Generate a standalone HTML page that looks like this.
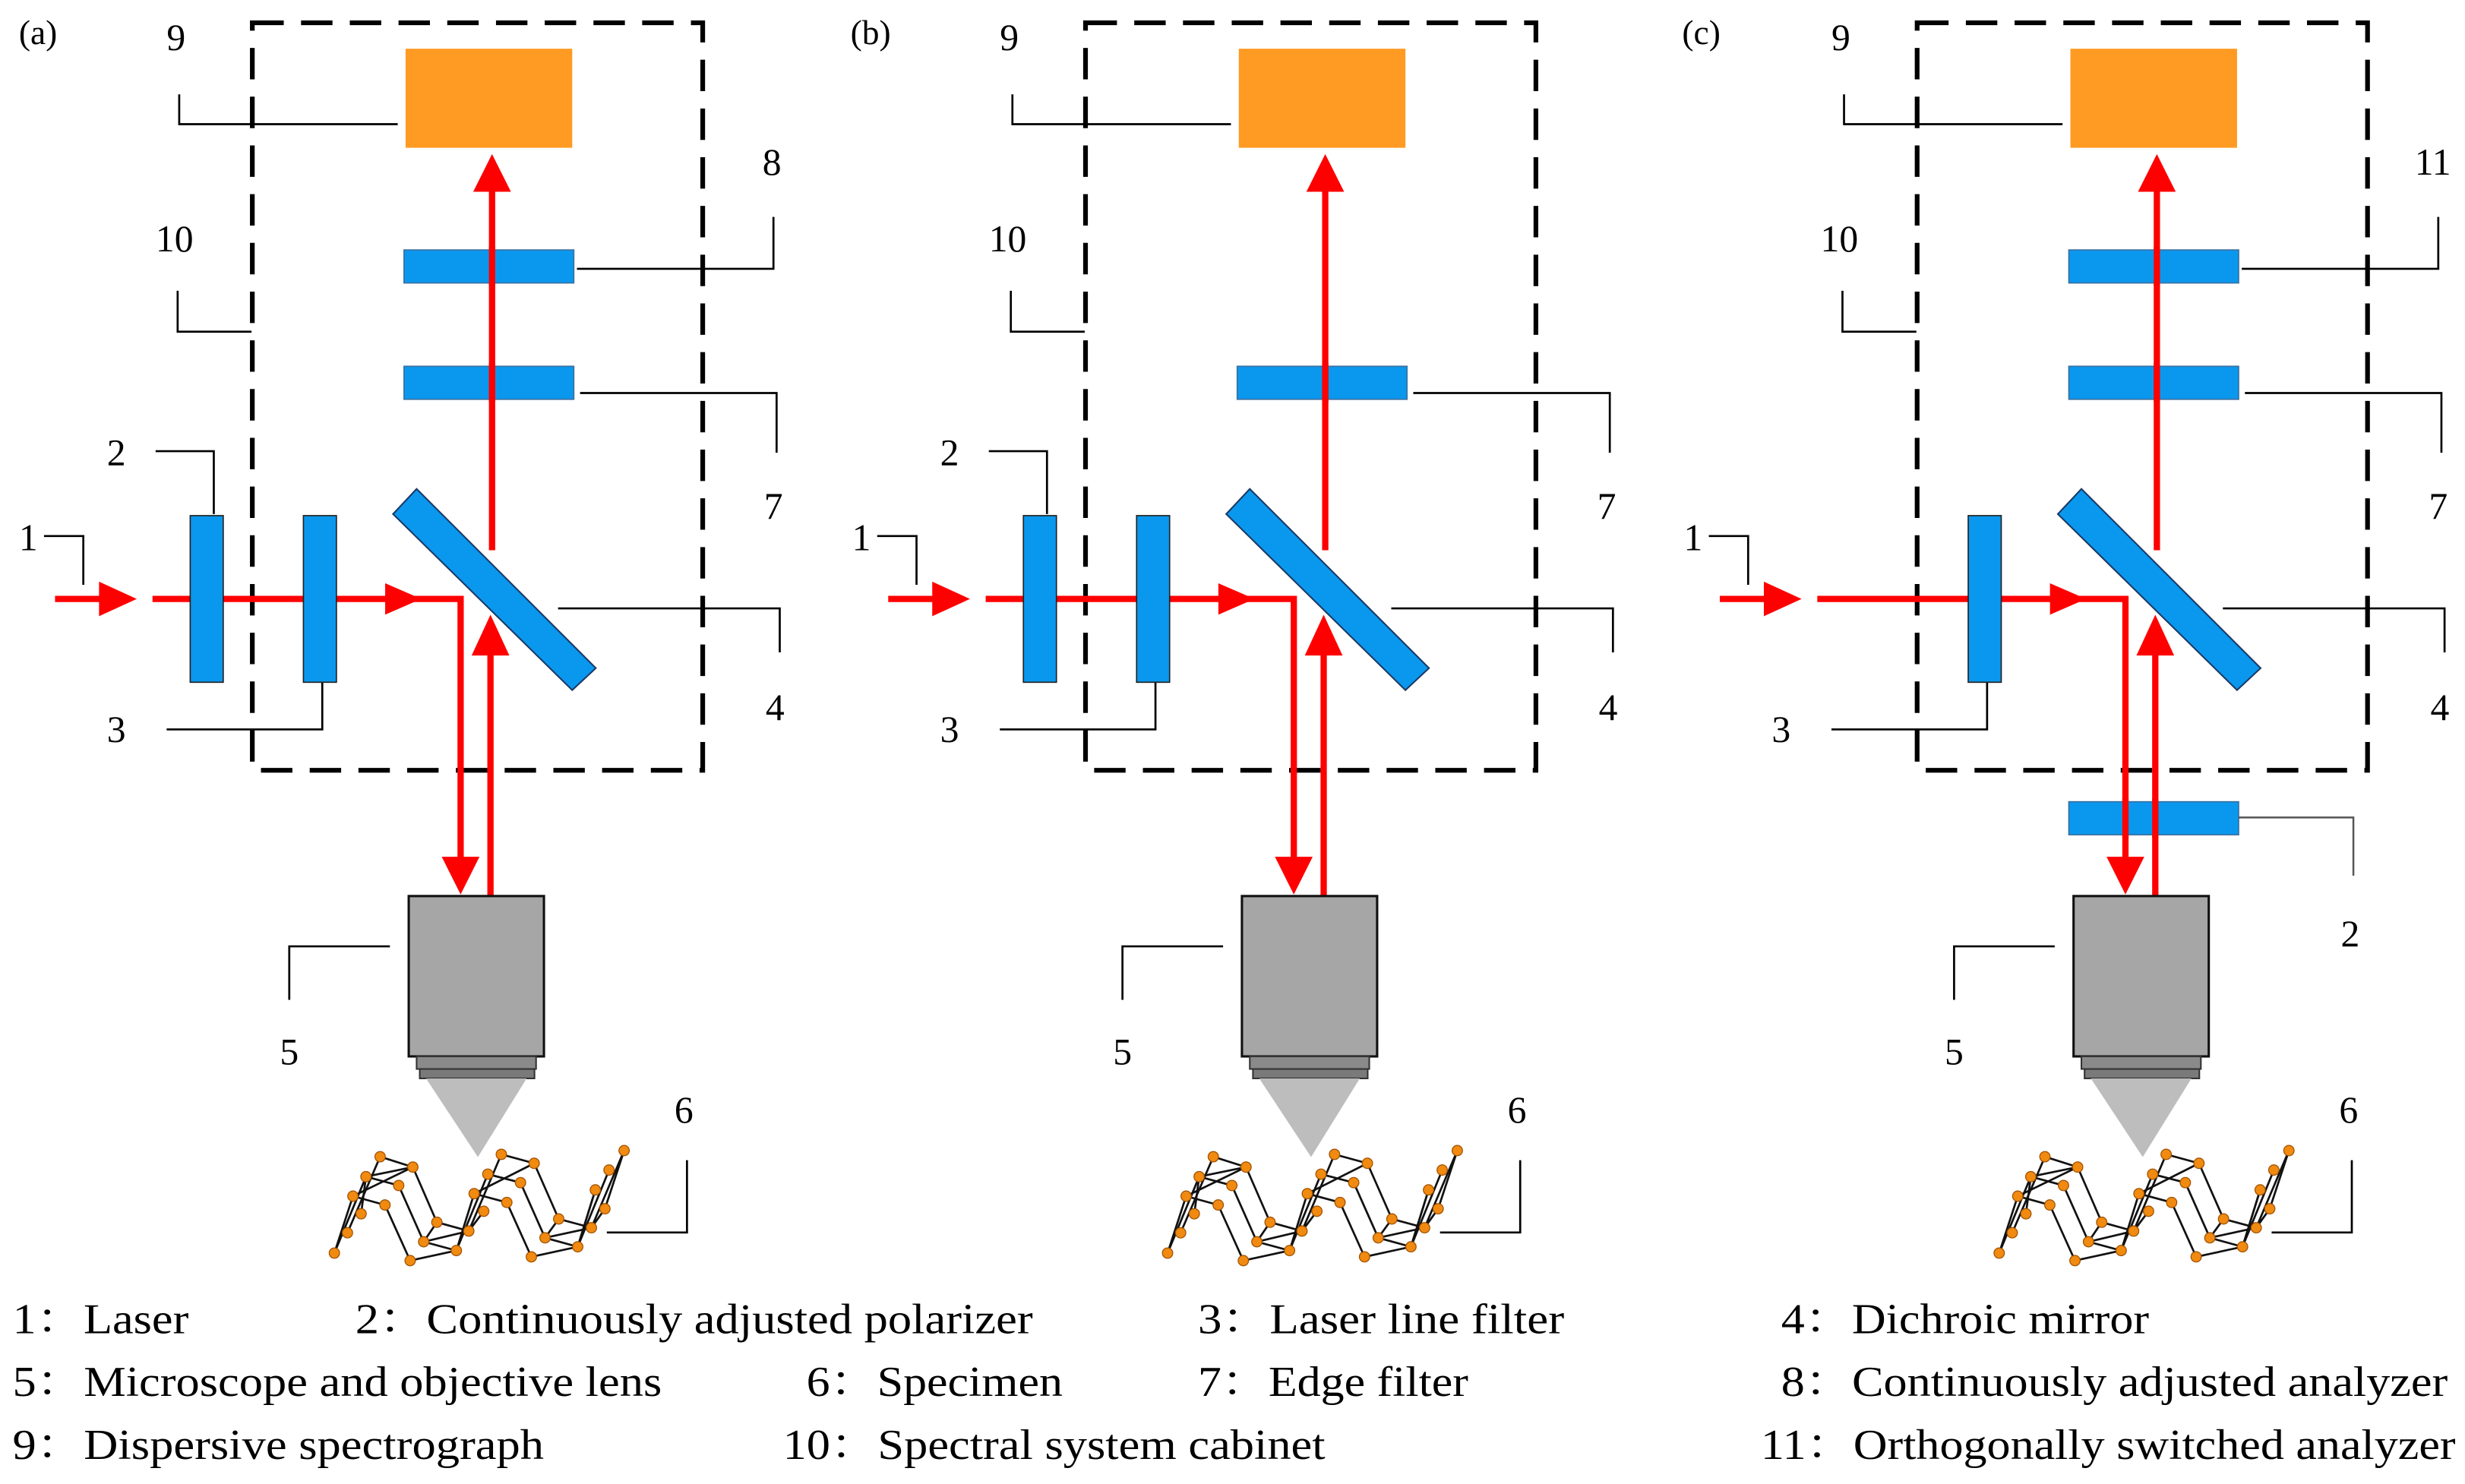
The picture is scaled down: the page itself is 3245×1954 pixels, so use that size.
<!DOCTYPE html>
<html><head><meta charset="utf-8"><style>
html,body{margin:0;padding:0;background:#fff;}
svg{display:block;}
svg text{font-family:"Liberation Serif","DejaVu Serif","Noto Serif CJK SC",serif !important;}
</style></head><body>
<svg width="3245" height="1954" viewBox="0 0 1568 944" preserveAspectRatio="none" xmlns="http://www.w3.org/2000/svg">
<style>text{font-family:"Liberation Serif","DejaVu Serif","Noto Serif CJK SC",serif !important;}</style>
<defs>
<g id="common">
  <rect x="160.5" y="14.5" width="286.5" height="475.5" fill="none" stroke="#000" stroke-width="3" stroke-dasharray="20,11"/>
  <rect x="258" y="31" width="106" height="63" fill="#ff9a22"/>
  <polyline points="114,60 114,79 253,79" fill="none" stroke="#000" stroke-width="1.3"/>
  <text x="106" y="32" font-size="24">9</text>
  <polyline points="113,185 113,211 160,211" fill="none" stroke="#000" stroke-width="1.3"/>
  <text x="99" y="160" font-size="24">10</text>
  <polyline points="28,341 53,341 53,372" fill="none" stroke="#000" stroke-width="1.3"/>
  <text x="12" y="350" font-size="24">1</text>
  <polyline points="106,464 205,464 205,434" fill="none" stroke="#000" stroke-width="1.3"/>
  <text x="68" y="472" font-size="24">3</text>
  <polyline points="369,250 494,250 494,288" fill="none" stroke="#000" stroke-width="1.3"/>
  <text x="486" y="330" font-size="24">7</text>
  <polyline points="355,387 496,387 496,415" fill="none" stroke="#000" stroke-width="1.3"/>
  <text x="487" y="458" font-size="24">4</text>
  <polyline points="184,636 184,602 248,602" fill="none" stroke="#000" stroke-width="1.3"/>
  <text x="178" y="677" font-size="24">5</text>
  <polyline points="386,784 437,784 437,738" fill="none" stroke="#000" stroke-width="1.3"/>
  <text x="429" y="714" font-size="24">6</text>
  <rect x="257" y="233" width="108" height="21" fill="#0a98ee" stroke="#3a6fa0" stroke-width="0.8"/>
  <g stroke="#ff0000" stroke-width="4" fill="none">
    <line x1="35" y1="381" x2="66" y2="381"/>
    <line x1="97" y1="381" x2="293" y2="381"/>
    <line x1="293" y1="379" x2="293" y2="548"/>
    <line x1="312" y1="570" x2="312" y2="412"/>
    <line x1="313" y1="350" x2="313" y2="118"/>
  </g>
  <g fill="#ff0000">
    <polygon points="63,370 87,381 63,392"/>
    <polygon points="245,371 268,381 245,391"/>
    <polygon points="281,545 305,545 293,569"/>
    <polygon points="300,417 312,391 324,417"/>
    <polygon points="301,122 313,98 325,122"/>
  </g>
  <rect x="193" y="328" width="21" height="106" fill="#0a98ee" stroke="#222" stroke-width="0.8"/>
  <polygon points="250,327 265,311 379,425 364,439" fill="#0a98ee" stroke="#1a3a66" stroke-width="1"/>
  <rect x="260" y="570" width="86" height="102" fill="#a6a6a6" stroke="#111" stroke-width="1.5"/>
  <rect x="265" y="672" width="76" height="8" fill="#8a8a8a" stroke="#333" stroke-width="1"/>
  <rect x="267" y="680" width="73" height="6" fill="#7a7a7a" stroke="#333" stroke-width="1"/>
  <polygon points="271,686 335,686 304,736" fill="#bdbdbd"/>
  <g stroke="#111" stroke-width="1.3" fill="none">
    <polyline points="212.7,797.1 232.8,748.5 262.6,742.4"/>
    <polyline points="221,784.2 241.8,735.8 262.6,742.4 277.9,777.5 298.2,783.1 318.9,734.3 339.8,740 355.4,775.4 376.2,781 397,731.9"/>
    <polyline points="229.7,772.1 232.8,748.5 253.6,754.1 269.5,789.9 290.3,795.5 310.3,746.9 331.1,752.3 346.7,787.4 367.5,793.1 387.4,744.3"/>
    <polyline points="224.5,760.9 244.9,766.5 260.9,801.9 290.3,795.5 301.6,759.3 322.4,764.9 338,799.5 367.5,793.1 378.7,756.9"/>
    <line x1="224.5" y1="760.9" x2="262.6" y2="742.4"/>
    <line x1="212.7" y1="797.1" x2="224.5" y2="760.9"/>
    <line x1="277.9" y1="777.5" x2="269.5" y2="789.9"/>
    <line x1="298.2" y1="783.1" x2="307.7" y2="770.5"/>
    <line x1="269.5" y1="789.9" x2="298.2" y2="783.1"/>
    <line x1="301.6" y1="759.3" x2="339.8" y2="740"/>
    <line x1="355.4" y1="775.4" x2="346.7" y2="787.4"/>
    <line x1="346.7" y1="787.4" x2="376.2" y2="781"/>
    <line x1="376.2" y1="781" x2="384.8" y2="768.9"/>
    <line x1="384.8" y1="768.9" x2="397" y2="731.9"/>
    <line x1="367.5" y1="793.1" x2="378.7" y2="756.9"/>
  </g>
  <g fill="#f08a10" stroke="#a05000" stroke-width="0.6">
    <circle cx="241.8" cy="735.8" r="3.3"/><circle cx="262.6" cy="742.4" r="3.3"/><circle cx="232.8" cy="748.5" r="3.3"/>
    <circle cx="253.6" cy="754.1" r="3.3"/><circle cx="224.5" cy="760.9" r="3.3"/><circle cx="244.9" cy="766.5" r="3.3"/>
    <circle cx="229.7" cy="772.1" r="3.3"/><circle cx="221" cy="784.2" r="3.3"/><circle cx="212.7" cy="797.1" r="3.3"/>
    <circle cx="277.9" cy="777.5" r="3.3"/><circle cx="298.2" cy="783.1" r="3.3"/><circle cx="269.5" cy="789.9" r="3.3"/>
    <circle cx="290.3" cy="795.5" r="3.3"/><circle cx="260.9" cy="801.9" r="3.3"/><circle cx="318.9" cy="734.3" r="3.3"/>
    <circle cx="339.8" cy="740" r="3.3"/><circle cx="310.3" cy="746.9" r="3.3"/><circle cx="331.1" cy="752.3" r="3.3"/>
    <circle cx="301.6" cy="759.3" r="3.3"/><circle cx="322.4" cy="764.9" r="3.3"/><circle cx="307.7" cy="770.5" r="3.3"/>
    <circle cx="355.4" cy="775.4" r="3.3"/><circle cx="376.2" cy="781" r="3.3"/><circle cx="346.7" cy="787.4" r="3.3"/>
    <circle cx="367.5" cy="793.1" r="3.3"/><circle cx="338" cy="799.5" r="3.3"/><circle cx="397" cy="731.9" r="3.3"/>
    <circle cx="387.4" cy="744.3" r="3.3"/><circle cx="378.7" cy="756.9" r="3.3"/><circle cx="384.8" cy="768.9" r="3.3"/>
  </g>
</g>
<g id="plate2h">
  <polyline points="99,287 136,287 136,327" fill="none" stroke="#000" stroke-width="1.3"/>
  <text x="68" y="296" font-size="24">2</text>
  <rect x="121" y="328" width="21" height="106" fill="#0a98ee" stroke="#222" stroke-width="0.8"/>
</g>
<g id="plateTop">
  <polyline points="367,171 492,171 492,138" fill="none" stroke="#000" stroke-width="1.3"/>
  <rect x="257" y="159" width="108" height="21" fill="#0a98ee" stroke="#3a6fa0" stroke-width="0.8"/>
</g>
</defs>

<text x="12" y="28" font-size="22">(a)</text>
<use href="#common"/>
<use href="#plate2h"/>
<use href="#plateTop"/>
<line x1="313" y1="157" x2="313" y2="182" stroke="#ff0000" stroke-width="4"/>
<line x1="313" y1="231" x2="313" y2="256" stroke="#ff0000" stroke-width="4"/>
<text x="485" y="111" font-size="24">8</text>

<text x="541" y="28" font-size="22">(b)</text>
<g transform="translate(530,0)">
  <use href="#common"/>
  <use href="#plate2h"/>
  <line x1="313" y1="231" x2="313" y2="256" stroke="#ff0000" stroke-width="4"/>
</g>

<text x="1070" y="28" font-size="22">(c)</text>
<g transform="translate(1059,0)">
  <use href="#common"/>
  <use href="#plateTop"/>
  <line x1="313" y1="157" x2="313" y2="182" stroke="#ff0000" stroke-width="4"/>
  <line x1="313" y1="231" x2="313" y2="256" stroke="#ff0000" stroke-width="4"/>
  <text x="477" y="111" font-size="24">11</text>
  <rect x="257" y="510" width="108" height="21" fill="#0a98ee" stroke="#3a6fa0" stroke-width="0.8"/>
  <line x1="293" y1="508" x2="293" y2="533" stroke="#ff0000" stroke-width="4"/>
  <line x1="312" y1="508" x2="312" y2="533" stroke="#ff0000" stroke-width="4"/>
  <polyline points="365,520 438,520 438,557" fill="none" stroke="#555" stroke-width="1.2"/>
  <text x="430" y="602" font-size="24">2</text>
</g>

<g font-size="27">
  <text x="8" y="848" textLength="112" lengthAdjust="spacingAndGlyphs">1：Laser</text>
  <text x="226" y="848" textLength="431" lengthAdjust="spacingAndGlyphs">2：Continuously adjusted polarizer</text>
  <text x="762" y="848" textLength="233" lengthAdjust="spacingAndGlyphs">3：Laser line filter</text>
  <text x="1133" y="848" textLength="234" lengthAdjust="spacingAndGlyphs">4：Dichroic mirror</text>
  <text x="8" y="888" textLength="413" lengthAdjust="spacingAndGlyphs">5：Microscope and objective lens</text>
  <text x="513" y="888" textLength="163" lengthAdjust="spacingAndGlyphs">6：Specimen</text>
  <text x="762" y="888" textLength="172" lengthAdjust="spacingAndGlyphs">7：Edge filter</text>
  <text x="1133" y="888" textLength="424" lengthAdjust="spacingAndGlyphs">8：Continuously adjusted analyzer</text>
  <text x="8" y="928" textLength="338" lengthAdjust="spacingAndGlyphs">9：Dispersive spectrograph</text>
  <text x="498" y="928" textLength="345" lengthAdjust="spacingAndGlyphs">10：Spectral system cabinet</text>
  <text x="1120" y="928" textLength="442" lengthAdjust="spacingAndGlyphs">11：Orthogonally switched analyzer</text>
</g>
</svg>
</body></html>
